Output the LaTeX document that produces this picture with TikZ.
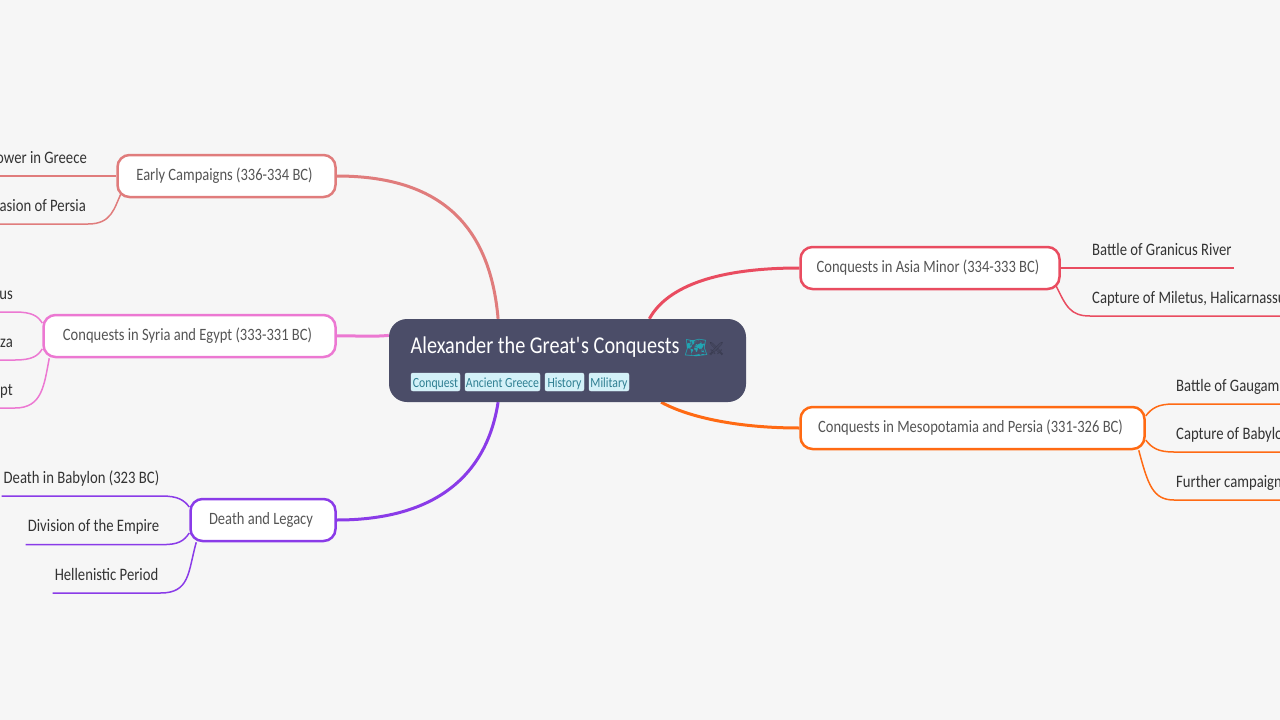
\documentclass[tikz,border=0pt]{standalone}
\usepackage{fontspec}
\setmainfont[FakeStretch=0.84]{Carlito}
\newfontfamily\emojifont{Noto Emoji}
\usetikzlibrary{backgrounds,calc}
\definecolor{bgcol}{HTML}{F6F6F6}
\definecolor{maincol}{HTML}{4B4D68}
\definecolor{tagfill}{HTML}{D3F1F8}
\definecolor{tagtext}{HTML}{2F7F92}
\definecolor{branchtext}{HTML}{555555}
\definecolor{leaftext}{HTML}{333333}
\definecolor{earlycol}{HTML}{E07C7C}
\definecolor{syriacol}{HTML}{EC78D2}
\definecolor{deathcol}{HTML}{8A3BE8}
\definecolor{asiacol}{HTML}{E94C60}
\definecolor{mesocol}{HTML}{FF6A13}
\begin{document}
\begin{tikzpicture}[
    x=1pt, y=-1pt,
    branch/.style={
      rectangle,
      rounded corners=12pt,
      draw,
      line width=2.5pt,
      fill=white,
      inner xsep=0pt,
      minimum height=42pt,
      text=branchtext,
      execute at end node={\hspace*{4pt}},
      font=\fontsize{17.3}{20}\selectfont
    },
    leaf/.style={
      inner xsep=2pt,
      inner ysep=0pt,
      text height=12pt,
      text depth=12.8pt,
      text=leaftext,
      font=\fontsize{17.5}{20}\selectfont
    },
    tagbox/.style={
      rectangle,
      rounded corners=2pt,
      fill=tagfill,
      draw=tagfill!70!white,
      inner sep=0pt,
      minimum height=18pt,
      text height=13pt,
      text depth=3pt,
      text=tagtext,
      font=\fontsize{14}{15}\selectfont
    },
    bigline/.style={line width=3pt},
    leafline/.style={line width=1.5pt}
  ]

  \useasboundingbox (0,0) rectangle (1280,720);

  \node[rectangle, rounded corners=18pt, fill=maincol, minimum width=357pt, minimum height=83pt, inner sep=0pt] (main) at (567.5,360.5) {};
  \node[anchor=base west, inner sep=0pt, text=white, font=\fontsize{24.1}{30}\selectfont] (title) at (410.5,353) {Alexander the Great\textquotesingle s Conquests};
  \node[anchor=base west, inner sep=0pt, text=tagtext!70!cyan, font=\emojifont\fontsize{19}{22}\selectfont] (map) at (684,354) {🗺};
  \node[anchor=base west, inner sep=0pt, text=maincol!75!black, font=\emojifont\fontsize{13}{22}\selectfont] (swords) at (708,353) {⚔};

  \node[tagbox, minimum width=49pt] (t1) at (435.5,382) {Conquest};
  \node[tagbox, minimum width=75pt] (t2) at (502.5,382) {Ancient Greece};
  \node[tagbox, minimum width=39pt] (t3) at (564.5,382) {History};
  \node[tagbox, minimum width=40pt] (t4) at (609,382) {Military};

  % left side
  \node[branch, draw=earlycol, minimum width=218pt] (early) at (226.5,176) {Early Campaigns (336-334 BC)};
  \node[branch, draw=syriacol, minimum width=292pt] (syria) at (189.5,336) {Conquests in Syria and Egypt (333-331 BC)};
  \node[branch, draw=deathcol, minimum width=145pt] (death) at (263,520) {Death and Legacy};

  % right side
  \node[branch, draw=asiacol, minimum width=259pt] (asia) at (930,268) {Conquests in Asia Minor (334-333 BC)};
  \node[branch, draw=mesocol, minimum width=344pt] (meso) at (972.5,428) {Conquests in Mesopotamia and Persia (331-326 BC)};

  % leaves
  \node[leaf, anchor=south east, text width=110pt, align=flush right] (e1) at (89,176) {ower in Greece};
  \node[leaf, anchor=south east, text width=110pt, align=flush right] (e2) at (88,224) {asion of Persia};

  \node[leaf, anchor=south east, text width=20pt, align=flush right] (s1) at (15,312) {us};
  \node[leaf, anchor=south east, text width=20pt, align=flush right] (s2) at (15,360) {za};
  \node[leaf, anchor=south east, text width=20pt, align=flush right] (s3) at (15,408) {pt};

  \node[leaf, anchor=south east] (d1) at (161.5,496) {Death in Babylon (323 BC)};
  \node[leaf, anchor=south east] (d2) at (161.5,544.5) {Division of the Empire};
  \node[leaf, anchor=south east] (d3) at (160.5,593) {Hellenistic Period};

  \node[leaf, anchor=south west] (a1) at (1090,268) {Battle of Granicus River};
  \node[leaf, anchor=south west, text width=215pt, align=flush left] (a2) at (1090,316) {Capture of Miletus, Halicarnassu};

  \node[leaf, anchor=south west, text width=130pt, align=flush left] (m1) at (1174,404) {Battle of Gaugam};
  \node[leaf, anchor=south west, text width=130pt, align=flush left] (m2) at (1174,452) {Capture of Babylo};
  \node[leaf, anchor=south west, text width=130pt, align=flush left] (m3) at (1174,500) {Further campaign};

  \begin{scope}[on background layer]
    \fill[bgcol] (0,0) rectangle (1280,720);

    % main curves
    \draw[bigline, earlycol] (main.149) .. controls (490,225) and (440,176) .. (early.east);
    \draw[bigline, syriacol] (main.172.8) .. controls (372,337) and (354,335.5) .. (syria.east);
    \draw[bigline, deathcol] (main.211) .. controls (486,480) and (430,520) .. (death.east);
    \draw[bigline, asiacol] (main.27) .. controls (668,285) and (720,268) .. (asia.west);
    \draw[bigline, mesocol] (main.-24.5) .. controls (690,418) and (740,428) .. (meso.west);

    % leaf lines
    \draw[leafline, earlycol] (e1.south west) -- (early.west);
    \draw[leafline, earlycol] (e2.south west) -- (e2.south east) .. controls (112,224) and (114,208) .. ($(early.south west)+(5,-5)$);

    \draw[leafline, syriacol] (s1.south west) -- (s1.south east) .. controls (32,312) and (38,316) .. (syria.175);
    \draw[leafline, syriacol] (s2.south west) -- (s2.south east) .. controls (32,360) and (38,356) .. (syria.185);
    \draw[leafline, syriacol] (s3.south west) -- (s3.south east) .. controls (42,408) and (44,386) .. ($(syria.south west)+(7,0)$);

    \draw[leafline, deathcol] (d1.south west) -- (d1.south east) .. controls (178,496) and (184,500) .. (death.170);
    \draw[leafline, deathcol] (d2.south west) -- (d2.south east) .. controls (178,545) and (184,541) .. (death.190);
    \draw[leafline, deathcol] (d3.south west) -- (d3.south east) .. controls (190,593) and (188,572) .. ($(death.south west)+(7,0)$);

    \draw[leafline, asiacol] (asia.east) -- (a1.south west) -- (a1.south east);
    \draw[leafline, asiacol] ($(asia.south east)+(-5,-5)$) .. controls (1066,306) and (1070,316) .. (a2.south west) -- (a2.south east);

    \draw[leafline, mesocol] (meso.4) .. controls (1152,408) and (1158,404) .. (m1.south west) -- (m1.south east);
    \draw[leafline, mesocol] (meso.-4) .. controls (1152,448) and (1158,452) .. (m2.south west) -- (m2.south east);
    \draw[leafline, mesocol] ($(meso.south east)+(-7,0)$) .. controls (1148,485) and (1153,500) .. (m3.south west) -- (m3.south east);
  \end{scope}

\end{tikzpicture}
\end{document}
